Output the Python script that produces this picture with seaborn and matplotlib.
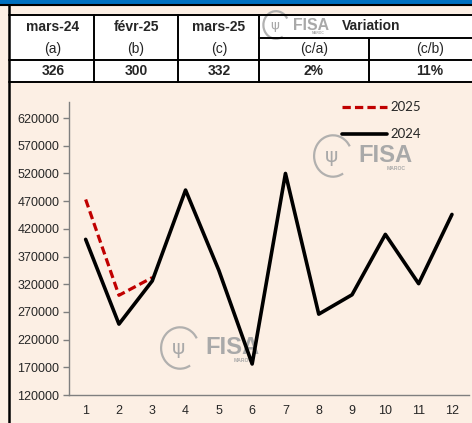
import matplotlib
matplotlib.use("Agg")
import matplotlib.pyplot as plt
import numpy as np
import pandas as pd
import seaborn as sns
from matplotlib.lines import Line2D
from matplotlib.patches import Rectangle, Arc

months = list(range(1, 13))
sales_2024 = [401000, 248000, 326000, 490000, 345000, 176000, 520000, 266000, 301000, 410000, 321000, 446000]
months_2025 = [1, 2, 3]
sales_2025 = [473000, 300000, 332000]

yticks = [120000, 170000, 220000, 270000, 320000, 370000, 420000, 470000, 520000, 570000, 620000]

head_labels = ["mars-24", "févr-25", "mars-25"]
head_sub = ["(a)", "(b)", "(c)"]
head_vals = ["326", "300", "332"]
var_sub = ["(c/a)", "(c/b)"]
var_vals = ["2%", "11%"]

BEIGE = "#FCEFE4"
GREY = "#7F7F7F"
WM = "#A9A9A9"

sns.set_style("white")
plt.rcParams["font.family"] = ["Liberation Sans", "DejaVu Sans"]

fig = plt.figure(figsize=(4.72, 4.23), dpi=100, facecolor=BEIGE)

# pixel-space background layer for the header table
bg = fig.add_axes([0, 0, 1, 1], zorder=0)
bg.set_xlim(0, 472)
bg.set_ylim(423, 0)
bg.axis("off")
bg.add_patch(Rectangle((0, 0), 472, 4.5, color="#0070C0", lw=0))
bg.plot([0, 472], [5, 5], color="black", lw=1.5)
bg.plot([8.5, 8.5], [5, 423], color="black", lw=1.8)
bg.add_patch(Rectangle((8.5, 15), 472, 67, facecolor="white", lw=0))

lw_tab = 1.4
for yy in (15, 60, 82):
    bg.plot([8.5, 472], [yy, yy], color="black", lw=lw_tab)
bg.plot([259, 472], [38, 38], color="black", lw=lw_tab)
for xx in (94, 178, 259):
    bg.plot([xx, xx], [15, 82], color="black", lw=lw_tab)
bg.plot([369, 369], [38, 82], color="black", lw=lw_tab)

col_x = [53, 136, 219]
fs_tab = 10
for x, a, b, c in zip(col_x, head_labels, head_sub, head_vals):
    bg.text(x, 27, a, ha="center", va="center", fontsize=fs_tab, fontweight="bold")
    bg.text(x, 49, b, ha="center", va="center", fontsize=fs_tab)
    bg.text(x, 71, c, ha="center", va="center", fontsize=fs_tab, fontweight="bold")
for x, b, c in zip([314, 430], var_sub, var_vals):
    bg.text(x, 49, b, ha="center", va="center", fontsize=fs_tab)
    bg.text(x, 71, c, ha="center", va="center", fontsize=fs_tab, fontweight="bold")


def watermark(cx, cy, size):
    bg.add_patch(Arc((cx, cy), 2.1 * size, 2.3 * size, theta1=60, theta2=330,
                     color=WM, lw=1.6, alpha=0.9))
    bg.text(cx - 0.1 * size, cy, "\u03c8", ha="center", va="center",
            fontsize=size * 0.8, color=WM, family="DejaVu Sans")
    bg.text(cx + 1.4 * size, cy, "FISA", ha="left", va="center",
            fontsize=size * 0.95, fontweight="bold", color=WM)
    bg.text(cx + 3.5 * size, cy + 0.7 * size, "MAROC", ha="center", va="center",
            fontsize=size * 0.2, fontweight="bold", color=WM)


watermark(276, 25, 12)
watermark(333, 156, 18)
watermark(180, 348, 18)

bg.text(371, 26, "Variation", ha="center", va="center", fontsize=fs_tab, fontweight="bold")

# main chart
ax = fig.add_axes([69 / 472, 1 - 395 / 423, (468.6 - 69) / 472, 293 / 423], zorder=1)
ax.patch.set_alpha(0)

sns.lineplot(x=months_2025, y=sales_2025, ax=ax, color="#C00000", lw=2.3, sort=False)
ax.lines[-1].set_dashes((2.6, 1.3))
sns.lineplot(x=months, y=sales_2024, ax=ax, color="black", lw=2.6, sort=False)

ax.set_xlim(0.5, 12.5)
ax.set_ylim(120000, 649000)
ax.set_yticks(yticks)
ax.set_yticklabels([str(v) for v in yticks], fontsize=9)
ax.set_xticks(months)
ax.set_xticklabels([str(m) for m in months], fontsize=9)
ax.set_xticks(np.arange(1.5, 12.5, 1), minor=True)
ax.tick_params(axis="x", which="major", length=0, pad=7)
ax.tick_params(axis="x", which="minor", length=4, width=1, color=GREY, direction="out")
ax.tick_params(axis="y", length=4, width=1, color=GREY, direction="out", left=True, pad=3)
for side in ("top", "right"):
    ax.spines[side].set_visible(False)
for side in ("left", "bottom"):
    ax.spines[side].set_color(GREY)
    ax.spines[side].set_linewidth(1)
ax.set_xlabel("")
ax.set_ylabel("")

handles = [
    Line2D([], [], color="#C00000", lw=2.3, dashes=(2.6, 1.3)),
    Line2D([], [], color="black", lw=2.6),
]
ax.legend(handles, ["2025", "2024"], loc="upper left", bbox_to_anchor=(0.683, 1.003),
          frameon=False, borderpad=0, borderaxespad=0, handlelength=3.4,
          handletextpad=0.3, labelspacing=1.15,
          prop={"family": ["Lato", "DejaVu Sans"], "size": 9.5})

fig.savefig("out.png", dpi=100, facecolor=BEIGE)
